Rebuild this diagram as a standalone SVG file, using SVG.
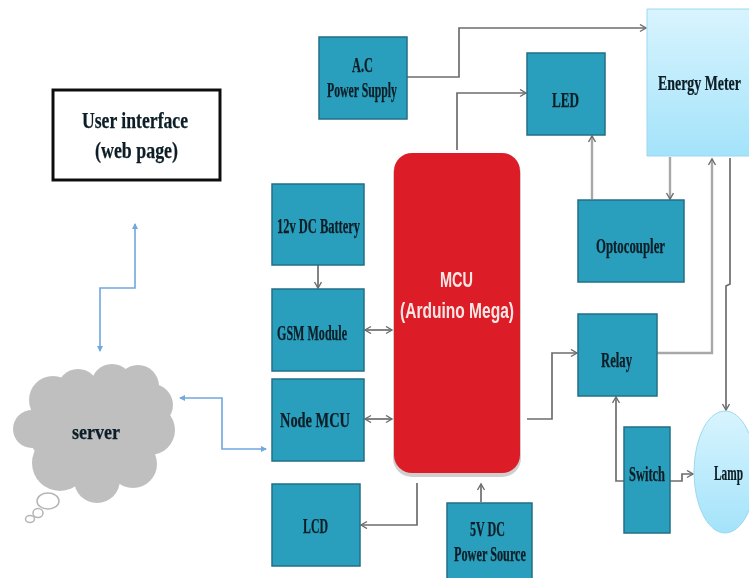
<svg xmlns="http://www.w3.org/2000/svg" width="749" height="578" viewBox="0 0 749 578">
<style>
.box{fill:#2a9fbd;stroke:#1f6f86;stroke-width:1.5}
.t{font-family:"Liberation Serif",serif;font-weight:bold;font-size:20px;fill:#0b1f26;stroke:#0b1f26;stroke-width:0.25}
.u{font-size:23px}
.w{font-family:"Liberation Sans",sans-serif;font-size:22px;font-weight:bold;fill:#fbe6e6}
.c{fill:none;stroke:#6d6d6d;stroke-width:1.7}
.l{fill:none;stroke:#a8a8a8;stroke-width:2.4}
.b{fill:none;stroke:#6fa8e0;stroke-width:1.6}
</style>
<defs>
<linearGradient id="sky" x1="0" y1="0" x2="0" y2="1"><stop offset="0" stop-color="#d8f4fe"/><stop offset="1" stop-color="#a4e3fa"/></linearGradient>
<marker id="a" markerWidth="9" markerHeight="9" refX="7" refY="4" orient="auto-start-reverse" markerUnits="userSpaceOnUse"><path d="M1 0.5L7 4L1 7.5" fill="none" stroke="#6d6d6d" stroke-width="1.4"/></marker>
<marker id="d" markerWidth="7" markerHeight="7" refX="5" refY="3" orient="auto-start-reverse" markerUnits="userSpaceOnUse"><path d="M0 0L6 3L0 6Z" fill="#6fa8e0"/></marker>
<filter id="soft" x="0" y="0" width="749" height="578" filterUnits="userSpaceOnUse"><feGaussianBlur stdDeviation="0.7"/></filter>
</defs>
<rect width="749" height="578" fill="#fff"/>
<g filter="url(#soft)">
<g id="connectors">
<path class="c" d="M407 77H459V28H646" marker-end="url(#a)"/>
<path class="c" d="M457 150V93H526" marker-end="url(#a)"/>
<path class="l" d="M592 199V136" marker-end="url(#a)"/>
<path class="l" d="M670 157V199" marker-end="url(#a)"/>
<path class="l" d="M657 353H712V159" marker-end="url(#a)"/>
<path class="c" d="M730 158V284L726 286V410" marker-end="url(#a)"/>
<path class="c" d="M527 419H552V353H577" marker-end="url(#a)"/>
<path class="c" d="M624 481H616V397" marker-end="url(#a)"/>
<path class="c" d="M670 481H682V474H693" marker-end="url(#a)"/>
<path class="c" d="M365 330H392" marker-start="url(#a)" marker-end="url(#a)"/>
<path class="c" d="M365 419H392" marker-start="url(#a)" marker-end="url(#a)"/>
<path class="c" d="M417 483V525H361" marker-end="url(#a)"/>
<path class="c" d="M481 502V484" marker-end="url(#a)"/>
<path class="c" d="M318 265V288" marker-end="url(#a)"/>
<path class="b" d="M135 224V288H100V351" marker-start="url(#d)" marker-end="url(#d)"/>
<path class="b" d="M180 398H222V449H266" marker-start="url(#d)" marker-end="url(#d)"/>
</g>
<g id="user-interface"><rect x="53" y="90" width="167" height="90" fill="#fff" stroke="#111" stroke-width="3"/>
<text class="t u" x="82" y="128" textLength="106" lengthAdjust="spacingAndGlyphs">User interface</text>
<text class="t u" x="95" y="158" textLength="83" lengthAdjust="spacingAndGlyphs">(web page)</text></g>
<g id="server"><g fill="#bfbfbf">
<circle cx="53" cy="400" r="24"/><circle cx="78" cy="390" r="21"/><circle cx="112" cy="385" r="21"/><circle cx="138" cy="386" r="21"/><circle cx="152" cy="405" r="21"/><circle cx="150" cy="430" r="25"/><circle cx="133" cy="464" r="24"/><circle cx="97" cy="480" r="23"/><circle cx="60" cy="463" r="28"/><circle cx="32" cy="429" r="19"/><ellipse cx="92" cy="428" rx="64" ry="52"/></g>
<g fill="#fff" stroke="#b5b5b5" stroke-width="1.5"><ellipse cx="48" cy="501" rx="11" ry="8"/><ellipse cx="38" cy="513" rx="5" ry="4.5"/><ellipse cx="30" cy="519" rx="4.5" ry="3.5"/></g>
<text class="t" x="72" y="439" textLength="48" lengthAdjust="spacingAndGlyphs">server</text></g>
<g id="ac-power"><rect class="box" x="319" y="37" width="88" height="82"/><text class="t" x="352" y="72" textLength="21" lengthAdjust="spacingAndGlyphs">A.C</text><text class="t" x="327" y="97" textLength="70" lengthAdjust="spacingAndGlyphs">Power Supply</text></g>
<g id="led"><rect class="box" x="527" y="53" width="78" height="82"/><text class="t" x="552" y="107" textLength="27" lengthAdjust="spacingAndGlyphs">LED</text></g>
<g id="energy-meter"><rect x="647" y="9" width="102" height="147" fill="url(#sky)"/><path d="M749 9H647V156H749" fill="none" stroke="#9bd8ee"/><text class="t" transform="translate(658 90) scale(.695 1)">Energy Meter</text></g>
<g id="optocoupler"><rect class="box" x="578" y="200" width="106" height="82"/><text class="t" x="596" y="253" textLength="69" lengthAdjust="spacingAndGlyphs">Optocoupler</text></g>
<g id="relay"><rect class="box" x="578" y="314" width="79" height="82"/><text class="t" x="601" y="367" textLength="31" lengthAdjust="spacingAndGlyphs">Relay</text></g>
<g id="switch"><rect class="box" x="624" y="427" width="46" height="106"/><text class="t" x="629" y="481" textLength="36" lengthAdjust="spacingAndGlyphs">Switch</text></g>
<g id="lamp"><path d="M749 433.400A31 61 0 1 0 749 510.600Z" fill="url(#sky)"/><path d="M749 433.400A31 61 0 1 0 749 510.600" fill="none" stroke="#9bd8ee"/><text class="t" transform="translate(714 480) scale(.568 1)">Lamp</text></g>
<g id="battery"><rect class="box" x="272" y="184" width="92" height="81"/><text class="t" x="277" y="233" textLength="83" lengthAdjust="spacingAndGlyphs">12v DC Battery</text></g>
<g id="gsm"><rect class="box" x="272" y="289" width="92" height="82"/><text class="t" x="277" y="340" textLength="70" lengthAdjust="spacingAndGlyphs">GSM Module</text></g>
<g id="node-mcu"><rect class="box" x="272" y="379" width="92" height="82"/><text class="t" x="280" y="427" textLength="70" lengthAdjust="spacingAndGlyphs">Node MCU</text></g>
<g id="lcd"><rect class="box" x="272" y="484" width="88" height="82"/><text class="t" x="303" y="533" textLength="25" lengthAdjust="spacingAndGlyphs">LCD</text></g>
<g id="dc-source"><rect class="box" x="447" y="503" width="85" height="80"/><text class="t" x="470" y="536" textLength="35" lengthAdjust="spacingAndGlyphs">5V DC</text><text class="t" x="454" y="561" textLength="72" lengthAdjust="spacingAndGlyphs">Power Source</text></g>
<g id="mcu"><rect x="393" y="155" width="128" height="322" rx="19" fill="#cfcfcf"/><rect x="394" y="153" width="126" height="320" rx="18" fill="#dc1f26"/>
<text class="w" x="440" y="287" textLength="33" lengthAdjust="spacingAndGlyphs">MCU</text><text class="w" x="400" y="318" textLength="114" lengthAdjust="spacingAndGlyphs">(Arduino  Mega)</text></g>
</g>
</svg>
